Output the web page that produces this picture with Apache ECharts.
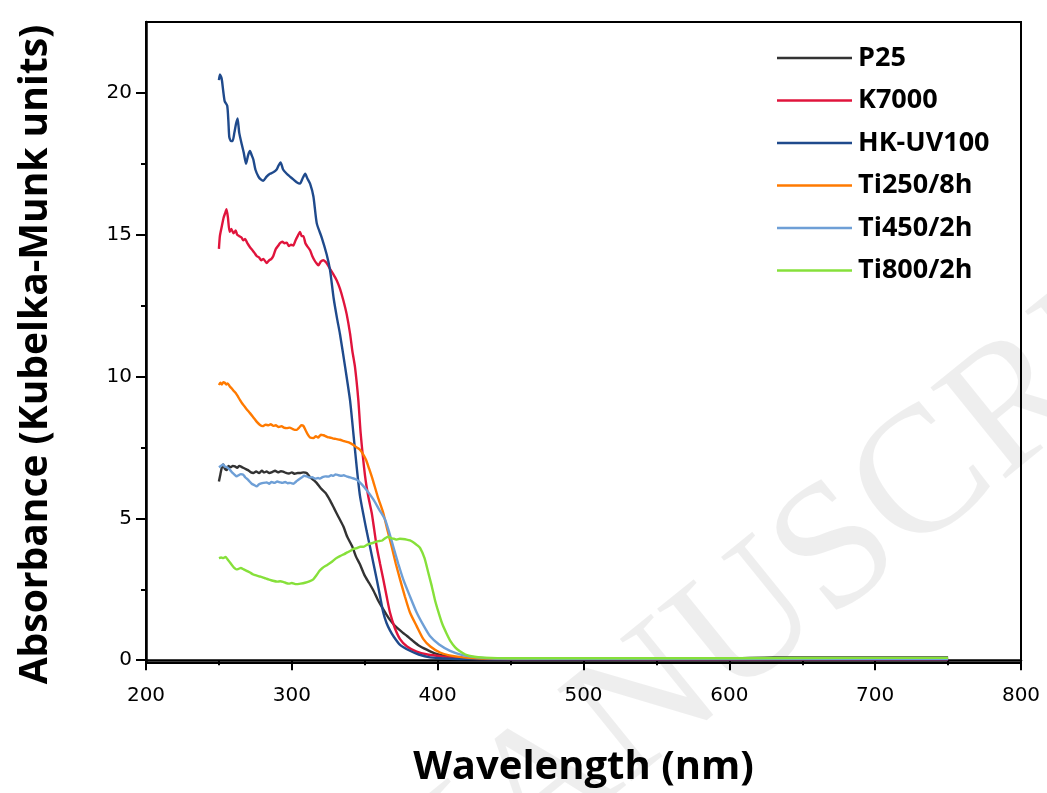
<!DOCTYPE html>
<html>
<head>
<meta charset="utf-8">
<title>Diffuse reflectance spectra</title>
<script src="https://cdn.jsdelivr.net/npm/echarts@6/dist/echarts.min.js"></script>
<style>
  html, body { margin: 0; padding: 0; background: #fff; }
  #chart { width: 1047px; height: 793px; }
</style>
</head>
<body>
<div id="chart"></div>
<script>
// Kubelka-Munk absorbance versus wavelength (nm), one [wavelength, value] list per sample
const seriesNames = ['P25', 'K7000', 'HK-UV100', 'Ti250/8h', 'Ti450/2h', 'Ti800/2h'];
const seriesColors = ['#333333', '#e0143c', '#1f4a8c', '#ff7a00', '#6e9fd6', '#86e03a'];

const p25 = [[250,6.3],[251,6.55],[252,6.8],[253,6.9],[254,6.75],[255.3,6.7],[256.5,6.85],[258,6.8],[259.5,6.85],[261,6.83],[262.5,6.78],[264,6.85],[266,6.8],[268,6.75],[270,6.7],[272,6.62],[273.6,6.6],[275.5,6.65],[277.5,6.6],[279.5,6.68],[281,6.62],[282.7,6.65],[284.5,6.6],[286.5,6.63],[288.5,6.68],[290.5,6.62],[292.5,6.66],[294,6.65],[296,6.6],[298,6.58],[300,6.62],[302,6.57],[304,6.6],[306,6.6],[308,6.62],[310.2,6.6],[312.5,6.45],[315,6.35],[317,6.25],[320,6.05],[323,5.9],[326,5.65],[329,5.35],[332,5.05],[335.3,4.72],[338,4.35],[341.5,4.0],[344,3.65],[346.7,3.38],[350,2.98],[353,2.72],[356,2.45],[359,2.12],[362,1.85],[365,1.6],[367.3,1.42],[370,1.25],[373,1.1],[376,0.97],[379,0.85],[383,0.68],[387,0.52],[392.5,0.37],[398,0.24],[406,0.14],[415,0.08],[430,0.06],[500,0.05],[600,0.06],[630,0.1],[700,0.1],[750,0.1]];

const k7000 = [[250,14.5],[250.7,14.97],[252,15.3],[253.2,15.6],[254.2,15.75],[255.2,15.9],[256.2,15.6],[257.3,15.1],[258.5,15.2],[260,15.05],[261.5,15.15],[262.5,15.0],[264,14.95],[265.5,14.9],[266.7,14.8],[268,14.85],[269.5,14.7],[271.3,14.56],[273,14.45],[274.5,14.35],[275.9,14.25],[277.5,14.2],[279,14.1],[280.5,14.15],[282.7,14.0],[284.5,14.1],[286,14.15],[287.3,14.25],[289,14.5],[290.5,14.6],[291.9,14.7],[293.5,14.75],[295,14.7],[296.5,14.72],[298,14.6],[299.5,14.65],[301,14.62],[302.5,14.8],[304,14.95],[305.6,15.1],[306.8,14.95],[307.9,14.95],[309.3,14.7],[310.5,14.6],[312.5,14.45],[314,14.25],[315.5,14.1],[316.8,14.0],[318.2,13.92],[319.8,14.05],[321.6,14.1],[323,14.05],[324.5,13.95],[326.2,13.8],[328.5,13.6],[330.8,13.39],[333,13.1],[335.3,12.69],[337.6,12.2],[339.9,11.52],[341.5,10.9],[343.3,10.34],[345.6,9.17],[347.2,8.0],[350.2,6.5],[352.5,5.75],[354.8,5.19],[356.5,4.6],[358.2,4.0],[360.5,3.4],[362.7,2.85],[365,2.25],[367.3,1.68],[370.5,1.15],[374.2,0.74],[379,0.48],[385.6,0.3],[393,0.2],[401.6,0.14],[410,0.08],[420,0.05],[450,0.03],[500,0.03],[600,0.02],[700,0.02],[750,0.02]];

const hkUv100 = [[250,20.45],[250.7,20.65],[251.9,20.5],[253,20.05],[254,19.7],[255.7,19.55],[256.5,19.0],[257.1,18.45],[258.3,18.3],[259.4,18.3],[260.6,18.6],[261.7,18.9],[262.8,19.1],[263.9,18.6],[265.6,18.2],[267,17.9],[268.6,17.5],[270,17.8],[271.3,17.95],[272.5,17.8],[273.6,17.65],[275,17.3],[277.1,17.05],[278.7,16.95],[280.4,16.9],[282.7,17.05],[285,17.15],[287.3,17.2],[289.6,17.3],[291,17.45],[292.3,17.55],[294,17.3],[296.5,17.15],[298.7,17.05],[301,16.95],[303.3,16.85],[305.6,16.8],[307.5,17.0],[309.2,17.15],[310.5,17.0],[312.5,16.8],[314.8,16.35],[317.1,15.4],[320.5,14.9],[323.9,14.3],[326.2,13.75],[328.7,12.75],[331,12.05],[333,11.5],[336.5,10.35],[339.9,9.17],[342.2,8.0],[344.5,6.8],[346.7,5.8],[349,5.15],[351.3,4.55],[353.6,4.0],[356,3.4],[358.2,2.85],[360.5,2.25],[362.7,1.68],[365,1.3],[367.3,1.05],[369.6,0.85],[374,0.55],[381,0.33],[387,0.2],[394.7,0.1],[405,0.06],[420,0.04],[450,0.03],[500,0.03],[600,0.03],[700,0.03],[750,0.03]];

const ti250 = [[250,9.7],[251,9.78],[252,9.72],[253,9.8],[254,9.78],[255,9.72],[256,9.76],[257.5,9.65],[258.8,9.58],[260,9.5],[261.5,9.42],[263,9.3],[264.5,9.17],[266,9.05],[267.5,8.95],[269,8.85],[271.3,8.71],[273,8.6],[274.5,8.5],[276,8.4],[278.2,8.29],[280,8.25],[282,8.3],[284,8.28],[285.5,8.32],[287.3,8.26],[289,8.28],[291,8.22],[293,8.25],[294.5,8.2],[296.5,8.18],[298.5,8.2],[300.5,8.15],[302,8.12],[303.3,8.12],[305,8.2],[306.5,8.28],[307.9,8.26],[309.5,8.1],[311,7.95],[312.5,7.85],[314.8,7.83],[316.5,7.9],[318,7.85],[320,7.95],[321.5,7.93],[322.7,7.91],[324.5,7.86],[326,7.85],[328,7.82],[330,7.8],[333,7.77],[336,7.72],[339,7.68],[342.2,7.59],[344.5,7.5],[346.7,7.42],[349,7.25],[351,7.05],[353,6.75],[355.5,6.36],[359,5.75],[362.7,5.19],[365.5,4.6],[368.5,4.0],[371.3,3.4],[374.2,2.85],[377.5,2.25],[381,1.68],[385.6,1.2],[390.2,0.74],[395,0.48],[401.6,0.27],[408,0.17],[417.6,0.1],[430,0.06],[500,0.05],[600,0.05],[700,0.05],[750,0.05]];

const ti450 = [[250,6.8],[251.5,6.85],[253,6.9],[254,6.83],[255.5,6.8],[257.6,6.71],[259,6.62],[260.5,6.55],[262.2,6.48],[263.5,6.52],[265,6.56],[266.7,6.54],[268,6.45],[269.5,6.38],[271,6.3],[272.5,6.22],[274,6.18],[275.9,6.13],[277.5,6.2],[279,6.23],[280.5,6.25],[282.7,6.27],[284.5,6.22],[286,6.28],[288,6.25],[290,6.3],[291.9,6.27],[293.5,6.25],[295.5,6.28],[297,6.24],[299,6.25],[301,6.22],[303,6.3],[305,6.38],[307,6.45],[308.5,6.5],[310.2,6.48],[312,6.44],[314,6.45],[316,6.4],[318,6.42],[319.3,6.4],[321,6.45],[323,6.48],[325,6.47],[327,6.52],[328.4,6.5],[330,6.55],[332,6.52],[334,6.5],[335.5,6.52],[337.5,6.48],[339.5,6.45],[341.5,6.42],[344.5,6.36],[348,6.2],[352,5.95],[356,5.66],[360,5.3],[363.9,4.96],[366.8,4.5],[369.6,4.0],[373,3.4],[376.4,2.85],[381,2.25],[385.6,1.68],[390,1.25],[394.7,0.85],[401,0.55],[408.5,0.33],[417,0.18],[426.8,0.1],[440,0.06],[500,0.05],[600,0.05],[700,0.05],[750,0.05]];

const ti800 = [[250,3.6],[251.5,3.62],[253,3.6],[254.5,3.64],[256,3.55],[257.5,3.45],[259,3.35],[260.5,3.25],[262,3.2],[263.5,3.22],[265,3.25],[267,3.2],[269,3.15],[271,3.1],[273.6,3.02],[276,2.98],[278,2.95],[280,2.92],[282,2.88],[284,2.85],[287,2.8],[290,2.77],[292,2.78],[294,2.76],[296,2.72],[298,2.7],[300,2.72],[303,2.68],[306,2.7],[309,2.73],[312,2.78],[314.7,2.85],[317,3.0],[319,3.15],[321,3.25],[324,3.35],[327,3.45],[330,3.58],[333,3.67],[336,3.74],[338,3.8],[340,3.85],[342,3.92],[344.5,3.95],[347,4.0],[349,4.0],[351,4.05],[353,4.1],[356,4.14],[358,4.18],[360,4.2],[362,4.22],[364,4.3],[366,4.35],[368,4.3],[370,4.28],[372,4.25],[374,4.28],[376,4.27],[378.7,4.25],[381,4.22],[383.5,4.15],[386,4.05],[388,3.95],[391,3.6],[393.5,3.1],[396,2.6],[398,2.15],[400.5,1.7],[403,1.3],[406,0.95],[409,0.65],[412,0.45],[415,0.32],[419,0.2],[424,0.13],[432,0.09],[450,0.07],[500,0.07],[600,0.07],[700,0.08],[750,0.08]];

const seriesData = [p25, k7000, hkUv100, ti250, ti450, ti800];

// axis ticks
const xMajorStep = 100;
const yLabelValues = [0, 5, 10, 15, 20];
const yMinorValues = [2.5, 7.5, 12.5, 17.5];

const chart = echarts.init(document.getElementById('chart'), null, { renderer: 'canvas' });

const numFont = 'DejaVu Sans';
const titleFont = 'Open Sans';

const option = {
  animation: false,
  backgroundColor: '#ffffff',
  graphic: [{
    type: 'text',
    z: -10,
    x: 372,
    y: 930,
    rotation: 0.68,
    silent: true,
    style: {
      text: 'MANUSCRIPT',
      font: '180px "Liberation Serif"',
      fill: 'rgba(0,0,0,0.065)',
      textAlign: 'left',
      textVerticalAlign: 'middle'
    }
  }],
  grid: {
    left: 146, right: 26, top: 22, bottom: 129,
    show: true,
    borderColor: '#000',
    borderWidth: 2,
    backgroundColor: 'transparent'
  },
  legend: {
    orient: 'vertical',
    left: 772,
    top: 38,
    itemWidth: 75,
    itemHeight: 14,
    itemGap: 12.5,
    icon: 'path://M0,6 L75,6 L75,8.5 L0,8.5 Z',
    textStyle: {
      fontFamily: titleFont,
      fontWeight: 'bold',
      fontSize: 27,
      lineHeight: 30,
      color: '#000',
      padding: [0, 0, 0, 1]
    },
    data: seriesNames
  },
  xAxis: {
    type: 'value',
    min: 200,
    max: 800,
    interval: xMajorStep,
    name: 'Wavelength (nm)',
    nameLocation: 'middle',
    nameGap: 85,
    nameTextStyle: { fontFamily: titleFont, fontWeight: 'bold', fontSize: 40, color: '#000' },
    axisLine: { lineStyle: { color: '#000', width: 2.5 } },
    axisTick: { show: true, length: 10, lineStyle: { color: '#000', width: 2 } },
    minorTick: { show: true, splitNumber: 2, length: 5, lineStyle: { color: '#000', width: 2 } },
    axisLabel: { fontFamily: numFont, fontSize: 20, color: '#000', margin: 23 },
    splitLine: { show: false }
  },
  yAxis: [{
    type: 'value',
    min: -0.1,
    max: 22.5,
    position: 'left',
    name: 'Absorbance (Kubelka-Munk units)',
    nameLocation: 'middle',
    nameRotate: 90,
    nameGap: 91,
    nameTextStyle: { fontFamily: titleFont, fontWeight: 'bold', fontSize: 39, color: '#000', padding: [0, 24, 0, 0] },
    axisLine: { show: true, lineStyle: { color: '#000', width: 2.5 } },
    axisTick: { show: true, length: 10, customValues: yLabelValues, lineStyle: { color: '#000', width: 2 } },
    axisLabel: { fontFamily: numFont, fontSize: 20, color: '#000', margin: 14, customValues: yLabelValues },
    splitLine: { show: false }
  }, {
    type: 'value',
    min: -0.1,
    max: 22.5,
    position: 'left',
    axisLine: { show: false },
    axisTick: { show: true, length: 5, customValues: yMinorValues, lineStyle: { color: '#000', width: 2 } },
    axisLabel: { show: false },
    splitLine: { show: false }
  }],
  series: seriesNames.map((name, i) => ({
    name: name,
    type: 'line',
    data: seriesData[i],
    yAxisIndex: 0,
    symbol: 'none',
    showSymbol: false,
    smooth: 0.2,
    color: seriesColors[i],
    lineStyle: { color: seriesColors[i], width: 2.4 },
    z: 2 + i
  }))
};

chart.setOption(option);
</script>
</body>
</html>
